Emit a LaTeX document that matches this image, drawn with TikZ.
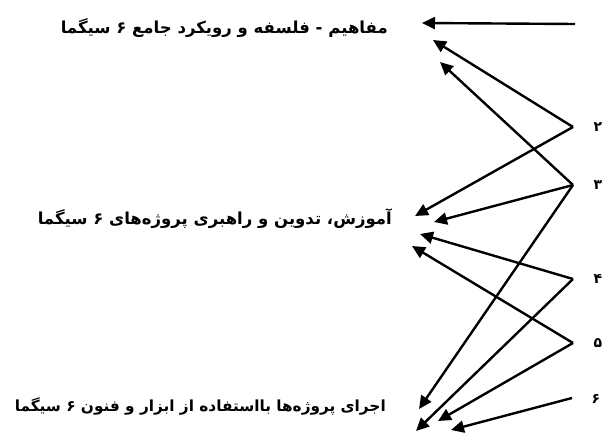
\documentclass[tikz,border=0pt]{standalone}
\usepackage{fontspec}
\newfontfamily\arabicfont[Script=Arabic,BoldFont={DejaVu Sans Bold}]{DejaVu Sans}
\TeXXeTstate=1
\usetikzlibrary{arrows.meta}
\begin{document}
\begin{tikzpicture}[x=1pt,y=-1pt,
  conn/.style={line width=2.4pt, -{Triangle[length=13pt,width=12pt]}},
  lbl/.style={font=\arabicfont\bfseries\fontsize{15}{17}\selectfont, anchor=east, inner sep=0pt},
  num/.style={font=\arabicfont\bfseries\fontsize{14}{16}\selectfont, inner sep=0pt}]
\useasboundingbox (0,0) rectangle (614,433);
% sources
\coordinate (s1) at (575,24);
\coordinate (s2) at (573,127);
\coordinate (s3) at (573,185);
\coordinate (s4) at (573,279);
\coordinate (s5) at (573,343);
\coordinate (s6) at (572,398);
\node[num] (n2) at (598,127) {\beginR ۲\endR};
\node[num] (n3) at (598,185) {\beginR ۳\endR};
\node[num] (n4) at (598,279) {\beginR ۴\endR};
\node[num] (n5) at (598,343) {\beginR ۵\endR};
\node[num] (n6) at (596,399) {\beginR ۶\endR};
% targets
\coordinate (a1) at (422,23);
\coordinate (a2) at (433,40);
\coordinate (a3) at (440,62);
\coordinate (m1) at (415,216);
\coordinate (m2) at (434,222);
\coordinate (m3) at (420,234);
\coordinate (m4) at (412,246);
\coordinate (b1) at (419,409);
\coordinate (b2) at (416,431);
\coordinate (b3) at (438,421);
\coordinate (b4) at (451,430);
% texts
\node[lbl] (t1) at (388,28) {\resizebox{327pt}{!}{\beginR مفاهیم - فلسفه و رویکرد جامع ۶ سیگما\endR}};
\node[lbl] (t2) at (392,219) {\resizebox{354pt}{!}{\beginR آموزش، تدوین و راهبری پروژه‌های ۶ سیگما\endR}};
\node[lbl] (t3) at (386,406) {\resizebox{371pt}{!}{\beginR اجرای پروژه‌ها بااستفاده از ابزار و فنون ۶ سیگما\endR}};
% connectors
\draw[conn] (s1) -- (a1);
\draw[conn] (s2) -- (a2);
\draw[conn] (s3) -- (a3);
\draw[conn] (s2) -- (m1);
\draw[conn] (s3) -- (m2);
\draw[conn] (s4) -- (m3);
\draw[conn] (s5) -- (m4);
\draw[conn] (s3) -- (b1);
\draw[conn] (s4) -- (b2);
\draw[conn] (s5) -- (b3);
\draw[conn] (s6) -- (b4);
\end{tikzpicture}
\end{document}
